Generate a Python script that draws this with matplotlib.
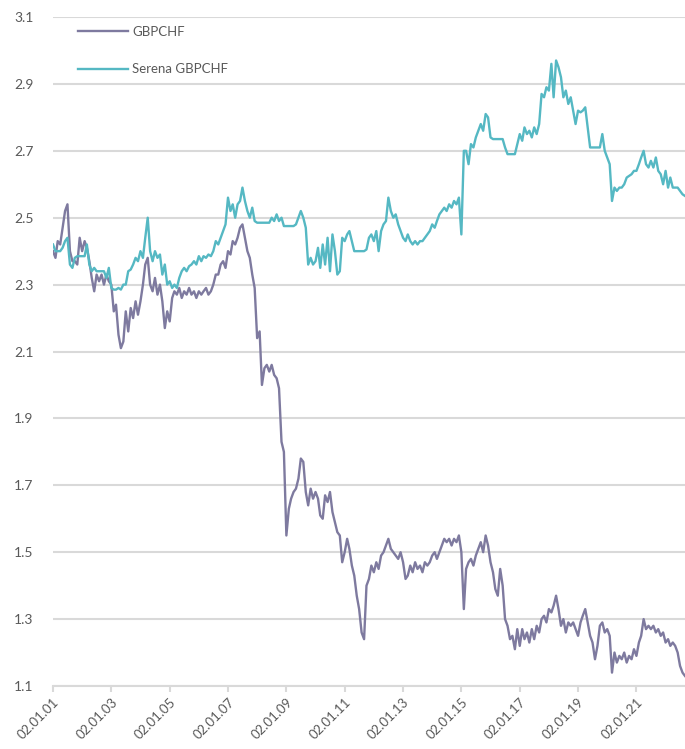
import numpy as np
import pandas as pd
import matplotlib
matplotlib.use("Agg")
import matplotlib.pyplot as plt

# monthly closes, Jan 2001 .. Sep 2022
start = "2001-01-02"

gbpchf = [
    2.40, 2.38, 2.43, 2.42, 2.47, 2.52, 2.54, 2.40, 2.37, 2.37, 2.36, 2.44,
    2.40, 2.43, 2.41, 2.37, 2.32, 2.28, 2.33, 2.31, 2.33, 2.30, 2.33, 2.31,
    2.30, 2.22, 2.24, 2.15, 2.11, 2.13, 2.22, 2.16, 2.23, 2.20, 2.25, 2.21,
    2.25, 2.30, 2.36, 2.38, 2.30, 2.28, 2.32, 2.27, 2.30, 2.25, 2.17, 2.22,
    2.19, 2.26, 2.28, 2.27, 2.29, 2.26, 2.28, 2.27, 2.29, 2.27, 2.28, 2.26,
    2.28, 2.27, 2.28, 2.29, 2.27, 2.28, 2.30, 2.33, 2.33, 2.36, 2.37, 2.35,
    2.40, 2.39, 2.43, 2.42, 2.44, 2.47, 2.48, 2.44, 2.40, 2.38, 2.33, 2.29,
    2.14, 2.16, 2.00, 2.05, 2.06, 2.04, 2.06, 2.03, 2.02, 1.99, 1.83, 1.80,
    1.55, 1.63, 1.66, 1.68, 1.69, 1.72, 1.78, 1.77, 1.68, 1.64, 1.69, 1.66,
    1.68, 1.66, 1.61, 1.60, 1.67, 1.65, 1.68, 1.62, 1.59, 1.56, 1.55, 1.47,
    1.50, 1.54, 1.51, 1.46, 1.43, 1.37, 1.33, 1.26, 1.24, 1.40, 1.42, 1.46,
    1.44, 1.47, 1.45, 1.49, 1.50, 1.52, 1.54, 1.51, 1.50, 1.49, 1.48, 1.50,
    1.47, 1.42, 1.43, 1.46, 1.44, 1.47, 1.45, 1.46, 1.44, 1.47, 1.46, 1.47,
    1.49, 1.50, 1.48, 1.50, 1.52, 1.54, 1.53, 1.54, 1.52, 1.54, 1.53, 1.55,
    1.50, 1.33, 1.45, 1.47, 1.48, 1.46, 1.49, 1.51, 1.53, 1.50, 1.55, 1.52,
    1.47, 1.44, 1.39, 1.37, 1.45, 1.40, 1.30, 1.28, 1.24, 1.25, 1.21, 1.27,
    1.22, 1.27, 1.24, 1.26, 1.23, 1.27, 1.24, 1.28, 1.26, 1.30, 1.31, 1.29,
    1.33, 1.32, 1.34, 1.37, 1.33, 1.28, 1.30, 1.26, 1.29, 1.28, 1.29, 1.27,
    1.25, 1.29, 1.31, 1.33, 1.29, 1.25, 1.23, 1.18, 1.22, 1.28, 1.29, 1.26,
    1.27, 1.25, 1.14, 1.20, 1.17, 1.19, 1.18, 1.20, 1.17, 1.19, 1.18, 1.21,
    1.19, 1.23, 1.25, 1.30, 1.27, 1.28, 1.27, 1.28, 1.26, 1.27, 1.25, 1.26,
    1.23, 1.24, 1.22, 1.23, 1.22, 1.20, 1.16, 1.14, 1.13,
]

serena = [
    2.42, 2.40, 2.40, 2.40, 2.41, 2.43, 2.44, 2.36, 2.35, 2.38, 2.385, 2.385,
    2.385, 2.385, 2.42, 2.36, 2.34, 2.35, 2.34, 2.34, 2.34, 2.34, 2.32, 2.35,
    2.29, 2.285, 2.285, 2.29, 2.285, 2.30, 2.30, 2.34, 2.345, 2.36, 2.38, 2.37,
    2.40, 2.38, 2.44, 2.50, 2.40, 2.37, 2.40, 2.38, 2.39, 2.33, 2.36, 2.30,
    2.31, 2.29, 2.30, 2.29, 2.32, 2.34, 2.35, 2.34, 2.355, 2.36, 2.37, 2.36,
    2.385, 2.37, 2.385, 2.38, 2.39, 2.385, 2.40, 2.43, 2.42, 2.44, 2.46, 2.48,
    2.56, 2.52, 2.54, 2.50, 2.54, 2.55, 2.59, 2.55, 2.52, 2.50, 2.53, 2.49,
    2.485, 2.485, 2.485, 2.485, 2.485, 2.485, 2.50, 2.49, 2.51, 2.49, 2.50, 2.475,
    2.475, 2.475, 2.475, 2.475, 2.48, 2.50, 2.52, 2.50, 2.47, 2.36, 2.38, 2.36,
    2.37, 2.41, 2.35, 2.42, 2.36, 2.44, 2.34, 2.45, 2.40, 2.33, 2.34, 2.44,
    2.43, 2.45, 2.46, 2.43, 2.40, 2.40, 2.40, 2.40, 2.40, 2.405, 2.44, 2.45,
    2.43, 2.46, 2.40, 2.46, 2.48, 2.49, 2.56, 2.52, 2.50, 2.51, 2.48, 2.46,
    2.44, 2.43, 2.45, 2.43, 2.42, 2.43, 2.42, 2.43, 2.43, 2.44, 2.45, 2.46,
    2.48, 2.47, 2.49, 2.51, 2.52, 2.53, 2.52, 2.54, 2.53, 2.55, 2.54, 2.56,
    2.45, 2.70, 2.70, 2.66, 2.72, 2.71, 2.74, 2.76, 2.78, 2.76, 2.81, 2.80,
    2.74, 2.735, 2.735, 2.735, 2.735, 2.735, 2.71, 2.69, 2.69, 2.69, 2.69, 2.72,
    2.75, 2.73, 2.77, 2.75, 2.76, 2.74, 2.77, 2.75, 2.78, 2.87, 2.86, 2.89,
    2.88, 2.96, 2.86, 2.97, 2.95, 2.92, 2.86, 2.88, 2.84, 2.86, 2.82, 2.78,
    2.82, 2.815, 2.82, 2.83, 2.77, 2.71, 2.71, 2.71, 2.71, 2.71, 2.75, 2.70,
    2.68, 2.66, 2.55, 2.59, 2.58, 2.59, 2.59, 2.60, 2.62, 2.625, 2.63, 2.64,
    2.64, 2.66, 2.68, 2.70, 2.66, 2.65, 2.67, 2.65, 2.68, 2.64, 2.63, 2.60,
    2.64, 2.59, 2.62, 2.59, 2.59, 2.59, 2.58, 2.57, 2.565,
]

tick_years = list(range(2001, 2022, 2))
tick_labels = ["02.01.%02d" % (y % 100) for y in tick_years]

dates = pd.date_range(start, periods=len(gbpchf), freq=pd.DateOffset(months=1))

purple = "#7E7A9F"
teal = "#55B8C3"
grey_txt = "#595959"
grid_c = "#D9D9D9"

plt.rcParams["font.family"] = ["Lato", "DejaVu Sans"]

fig = plt.figure(figsize=(6.85, 7.49), dpi=100)
ax = fig.add_axes([53 / 685, 63 / 749, 632 / 685, 669 / 749])

ax.plot(dates, gbpchf, color=purple, lw=1.7, label="GBPCHF", zorder=3)
ax.plot(dates, serena, color=teal, lw=1.7, label="Serena GBPCHF", zorder=3)

ax.set_ylim(1.1, 3.1)
yt = np.arange(1.1, 3.11, 0.2)
ax.set_yticks(yt)
ax.set_yticklabels(["%.1f" % v for v in yt])
ax.set_xlim(dates[0], dates[-1])
ax.set_xticks([pd.Timestamp("%d-01-02" % y) for y in tick_years])
ax.set_xticklabels(tick_labels, rotation=45, ha="right", rotation_mode="anchor")

ax.grid(axis="y", color=grid_c, lw=1.5, zorder=0)
for s in ["left", "right", "top"]:
    ax.spines[s].set_visible(False)
ax.spines["bottom"].set_color(grid_c)
ax.spines["bottom"].set_linewidth(1.5)
ax.tick_params(axis="y", length=0, labelsize=10, labelcolor=grey_txt, pad=14)
ax.tick_params(axis="x", length=4, width=1.5, color=grid_c, labelsize=9.5,
               labelcolor=grey_txt, pad=3)

leg = ax.legend(loc="upper left", bbox_to_anchor=(0.02, 1.005), frameon=False,
                handlelength=3.8, handletextpad=0.35, labelspacing=1.95, fontsize=9.5)
for t in leg.get_texts():
    t.set_color(grey_txt)

fig.savefig("out.png", dpi=100)
